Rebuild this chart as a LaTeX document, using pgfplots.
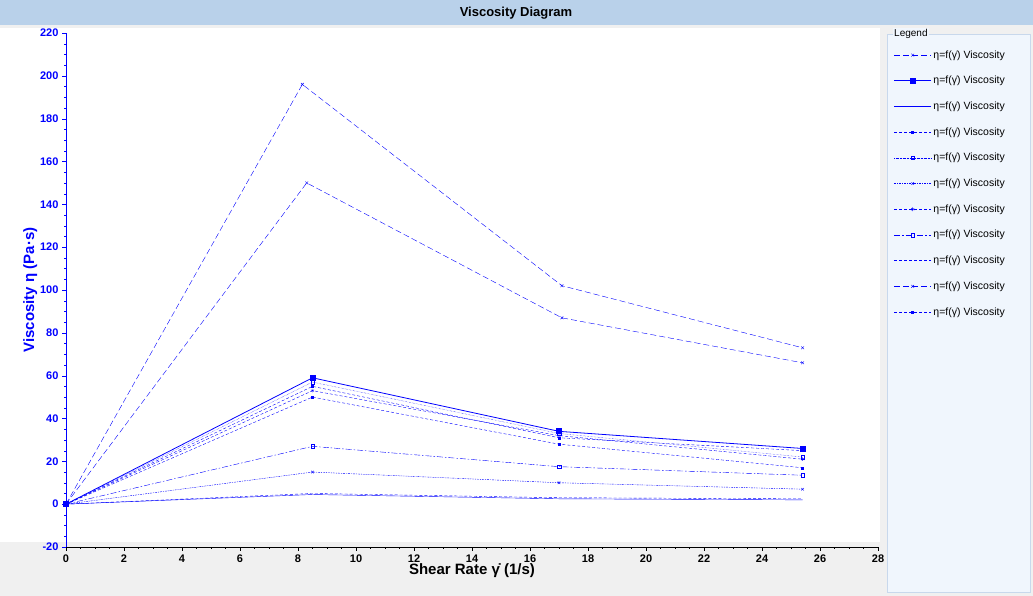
\documentclass[border=0pt]{standalone}
\usepackage{pgfplots}
\pgfplotsset{compat=1.18}
\usepackage{fontspec}
\setmainfont{Liberation Sans}
\definecolor{bg}{HTML}{F0F0F0}
\definecolor{titlebar}{HTML}{B9D1EA}
\definecolor{legbg}{HTML}{F0F6FD}
\definecolor{legfr}{HTML}{C8D8EC}
\begin{document}
\begin{tikzpicture}[x=1bp,y=1bp]
\fill[bg] (0,0) rectangle (1033,596);
\fill[titlebar] (0,571) rectangle (1033,596);
\node[font=\bfseries\fontsize{13bp}{15bp}\selectfont] at (516,583) {Viscosity Diagram};
\fill[white] (0,54) rectangle (880,568);
\fill[legbg] (887,4) rectangle (1030,562);
\draw[legfr] (887,4) rectangle (1030,562);
\node[fill=legbg,inner sep=1bp,anchor=west,font=\fontsize{10bp}{12bp}\selectfont] at (893,562) {Legend};
\begin{axis}[
  at={(66bp,49bp)}, anchor=south west, scale only axis,
  width=812bp, height=514bp,
  xmin=0, xmax=28, ymin=-20, ymax=220,
  xtick distance=2, ytick distance=20, minor x tick num=3, minor y tick num=3,
  axis x line*=bottom, axis y line*=left,
  x axis line style={black,-}, y axis line style={blue,thick,-},
  tick align=outside, tick style={blue}, xtick style={black},
  major tick length=4bp, minor tick length=2bp,
  tick label style={font=\bfseries\fontsize{11bp}{12bp}\selectfont},
  yticklabel style={blue},
  /pgf/number format/assume math mode=true,
  xlabel={Shear Rate γ̇ (1/s)}, ylabel={Viscosity η (Pa·s)},
  xlabel style={font=\bfseries\fontsize{15bp}{17bp}\selectfont, yshift=6bp},
  ylabel style={font=\bfseries\fontsize{15bp}{17bp}\selectfont, blue, yshift=-4bp},
  clip=false,
  legend style={at={(1.018,0.972)}, anchor=north west, draw=none, fill=none,
    font=\fontsize{10.5bp}{12bp}\selectfont, row sep=12.6bp, inner sep=1bp},
  legend cell align=left,
  legend image code/.code={\draw[mark repeat=2,mark phase=2] plot coordinates {(0cm,0cm) (0.65cm,0cm) (1.3cm,0cm)};},
  every axis plot/.append style={blue, mark options={solid}},
]
\addplot[dashed, dash pattern=on 6pt off 3pt, mark=x, mark size=2] coordinates {(0,0) (8.15,196) (17.1,102) (25.4,73)};
\addlegendentry{η=f(γ̇) Viscosity}
\addplot[solid, thick, mark=square*, mark size=2.5] coordinates {(0,0) (8.5,59) (17,34) (25.4,26)};
\addlegendentry{η=f(γ̇) Viscosity}
\addplot[solid, no marks] coordinates {(0,0) (8.5,4.5) (17,2.5) (25.4,2)};
\addlegendentry{η=f(γ̇) Viscosity}
\addplot[densely dashed, mark=square*, mark size=1] coordinates {(0,0) (8.5,50) (17,28) (25.4,17)};
\addlegendentry{η=f(γ̇) Viscosity}
\addplot[densely dotted, mark=square, mark size=1.8] coordinates {(0,0) (8.5,57) (17,33) (25.4,22)};
\addlegendentry{η=f(γ̇) Viscosity}
\addplot[dash pattern=on 2pt off 1pt on 1pt off 1pt, mark=x, mark size=1.8] coordinates {(0,0) (8.5,15) (17,10) (25.4,7)};
\addlegendentry{η=f(γ̇) Viscosity}
\addplot[densely dashed, mark=asterisk, mark size=1.8] coordinates {(0,0) (8.5,53) (17,32) (25.4,21)};
\addlegendentry{η=f(γ̇) Viscosity}
\addplot[dash pattern=on 6pt off 2pt on 1.5pt off 2pt, mark=square, mark size=1.8] coordinates {(0,0) (8.5,27) (17,17.5) (25.4,13.5)};
\addlegendentry{η=f(γ̇) Viscosity}
\addplot[densely dashed, no marks] coordinates {(0,0) (8.5,5) (17,3) (25.4,2.5)};
\addlegendentry{η=f(γ̇) Viscosity}
\addplot[dash pattern=on 6pt off 3pt, mark=x, mark size=2] coordinates {(0,0) (8.3,150) (17.1,87) (25.4,66)};
\addlegendentry{η=f(γ̇) Viscosity}
\addplot[densely dashed, mark=square*, mark size=1] coordinates {(0,0) (8.5,55) (17,31) (25.4,25)};
\addlegendentry{η=f(γ̇) Viscosity}
\end{axis}
\end{tikzpicture}
\end{document}
